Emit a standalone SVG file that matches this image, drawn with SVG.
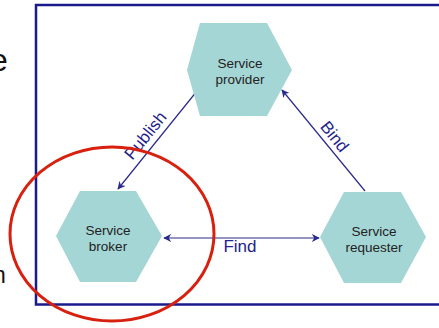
<svg xmlns="http://www.w3.org/2000/svg" width="439" height="328" viewBox="0 0 439 328">
<defs>
<style>
.hex{fill:#a5d6d6;stroke:none}
.nt{font-family:"Liberation Sans",Arial,sans-serif;font-size:13.5px;fill:#222;text-anchor:middle}
.lbl{font-family:"Liberation Sans",Arial,sans-serif;font-size:17px;fill:#23238c;text-anchor:middle}
.con{stroke:#2a2a8c;stroke-width:1.2;fill:none}
</style>
<marker id="ah" viewBox="0 0 10 10" refX="9" refY="5" markerWidth="8" markerHeight="8" orient="auto-start-reverse" markerUnits="userSpaceOnUse">
<path d="M0,0 L10,5 L0,10 L3,5 Z" fill="#2a2a8c"/>
</marker>
</defs>
<rect width="439" height="328" fill="#fff"/>
<text x="-10" y="71" font-family="Liberation Sans,Arial,sans-serif" font-size="32" fill="#111">e</text>
<text x="-7" y="283" font-family="Liberation Sans,Arial,sans-serif" font-size="23" fill="#111">n</text>
<rect id="frame" x="36" y="5" width="420" height="299.5" fill="none" stroke="#1a1a8c" stroke-width="2.5"/>
<g id="connectors">
<line class="con" x1="197" y1="91" x2="118" y2="189" marker-end="url(#ah)"/>
<line class="con" x1="365" y1="191" x2="282" y2="90" marker-end="url(#ah)"/>
<line class="con" x1="164" y1="238" x2="319" y2="238" marker-start="url(#ah)" marker-end="url(#ah)"/>
<text class="lbl" transform="translate(146,136) rotate(-51)" y="5">Publish</text>
<text class="lbl" transform="translate(334,137) rotate(51)" y="5">Bind</text>
<text class="lbl" x="240" y="252">Find</text>
</g>
<g id="provider">
<polygon class="hex" points="187,70 200,23 267,23 292,70 267,116 200,116"/>
<text class="nt" x="240" y="68">Service</text>
<text class="nt" x="240" y="84">provider</text>
</g>
<g id="broker">
<polygon class="hex" points="56,236 80,191 136,191 162,236 136,282 80,282"/>
<text class="nt" x="108" y="235">Service</text>
<text class="nt" x="108" y="251">broker</text>
</g>
<g id="requester">
<polygon class="hex" points="320,237 344,192 401,192 426,237 401,283 344,283"/>
<text class="nt" x="374" y="236">Service</text>
<text class="nt" x="374" y="252">requester</text>
</g>
<ellipse id="highlight" cx="112" cy="234" rx="102" ry="87" fill="none" stroke="#d8200f" stroke-width="3"/>
</svg>
